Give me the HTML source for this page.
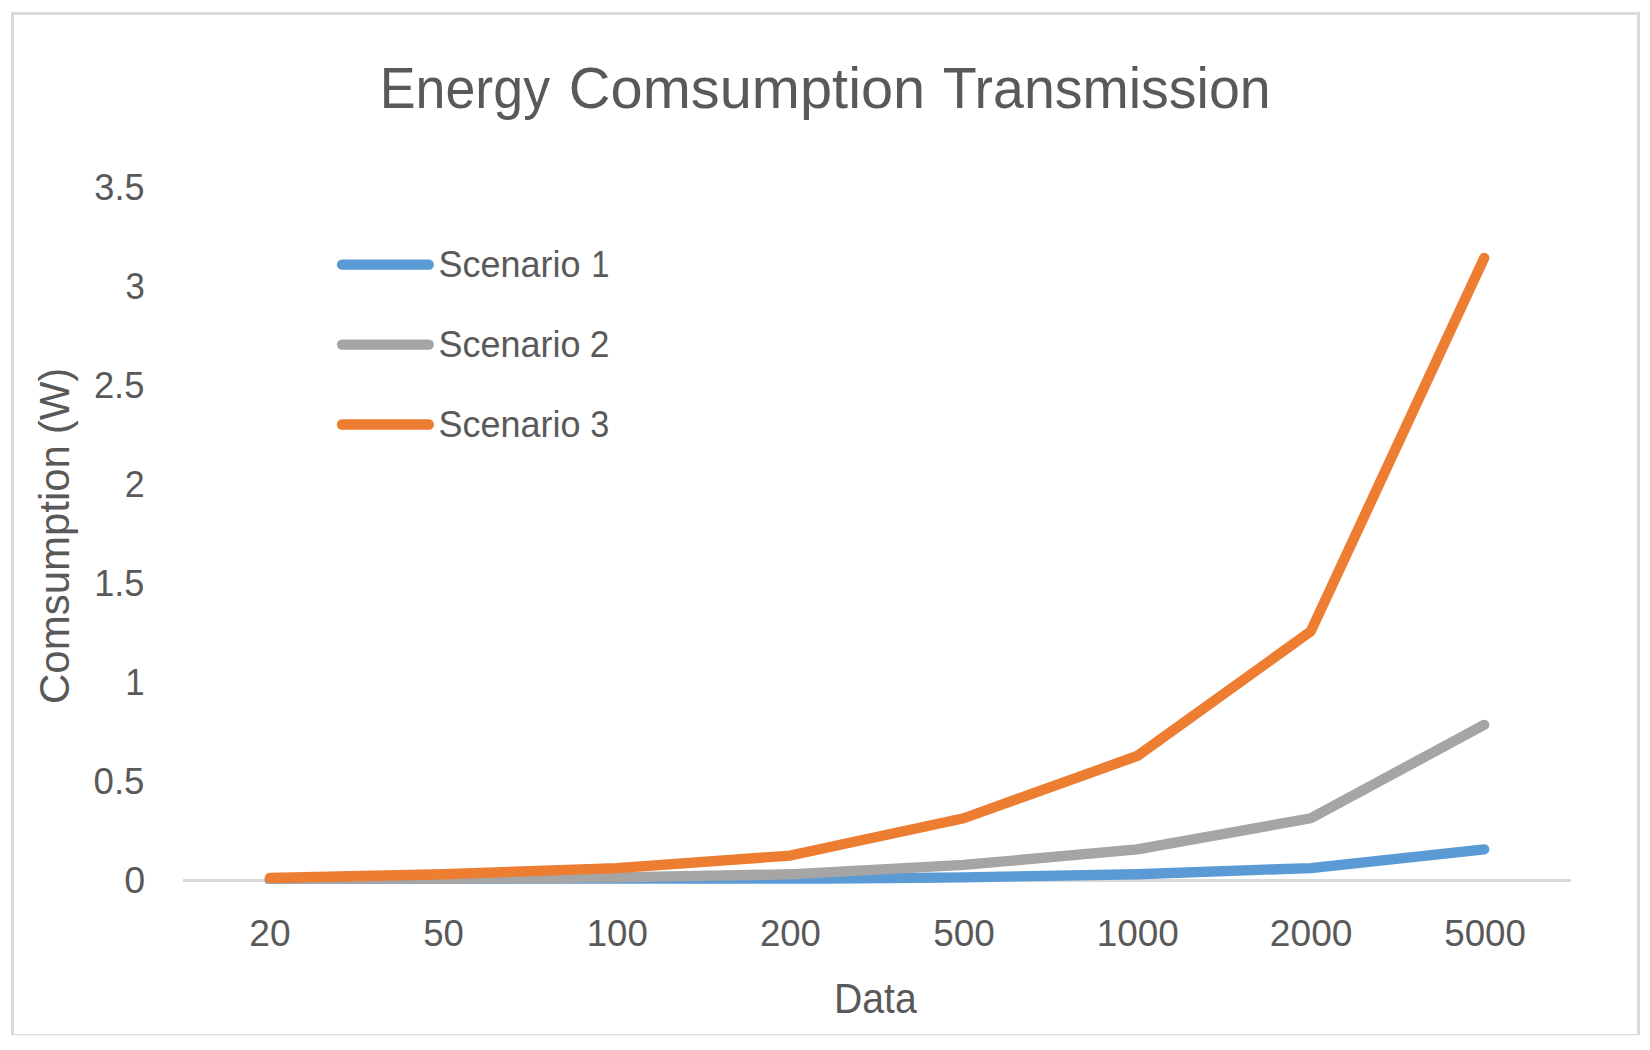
<!DOCTYPE html>
<html lang="en">
<head>
<meta charset="utf-8">
<title>Energy Comsumption Transmission</title>
<style>
html,body{margin:0;padding:0;background:#ffffff;}
body{width:1650px;height:1050px;overflow:hidden;}
svg{display:block;}
text{font-family:"Liberation Sans",sans-serif;fill:#595959;}
.ln{fill:none;stroke-linecap:round;stroke-linejoin:round;stroke-width:10.3;}
</style>
</head>
<body>
<svg width="1650" height="1050" viewBox="0 0 1650 1050" role="img" aria-label="Energy Comsumption Transmission">
<rect x="0" y="0" width="1650" height="1050" fill="#ffffff"/>
<!-- chart border -->
<g fill="#D9D9D9">
<rect x="11" y="12.1" width="1629" height="2.9"/>
<rect x="11" y="12" width="3" height="1023"/>
<rect x="1637" y="12" width="3" height="1023"/>
<rect x="11" y="1034" width="1629" height="1.2"/>
<!-- horizontal axis line -->
<rect x="183.0" y="879" width="1388.0" height="3"/>
</g>
<!-- series (clipped to plot area) -->
<defs><clipPath id="plot"><rect x="150" y="150" width="1450" height="733.8"/></clipPath></defs>
<g clip-path="url(#plot)">
<polyline class="ln" stroke="#5B9BD5" points="269.75,880.38 443.25,880.19 616.75,879.88 790.25,879.25 963.75,877.39 1137.25,874.27 1310.75,868.05 1484.25,849.37"/>
<polyline class="ln" stroke="#A5A5A5" points="269.75,879.88 443.25,878.94 616.75,877.39 790.25,874.27 963.75,864.93 1137.25,849.37 1310.75,818.23 1484.25,724.83"/>
<polyline class="ln" stroke="#ED7D31" points="269.75,878.01 443.25,874.27 616.75,868.05 790.25,855.59 963.75,818.23 1137.25,755.97 1310.75,631.44 1484.25,257.84"/>
</g>
<!-- legend keys -->
<line class="ln" stroke="#5B9BD5" x1="342" y1="264.7" x2="428.8" y2="264.7"/>
<line class="ln" stroke="#A5A5A5" x1="342" y1="344.6" x2="428.8" y2="344.6"/>
<line class="ln" stroke="#ED7D31" x1="342" y1="424.5" x2="428.8" y2="424.5"/>
<!-- text -->
<text y="107.6" font-size="56.7"><tspan x="379.80" textLength="170.20" lengthAdjust="spacingAndGlyphs">Energy</tspan> <tspan x="568.89" textLength="356.35" lengthAdjust="spacingAndGlyphs">Comsumption</tspan> <tspan x="942.73" textLength="327.98" lengthAdjust="spacingAndGlyphs">Transmission</tspan></text>
<text y="893.3" font-size="37.4"><tspan x="124.33" textLength="20.91" lengthAdjust="spacingAndGlyphs">0</tspan></text>
<text y="794.3" font-size="37.4"><tspan x="93.56" textLength="50.93" lengthAdjust="spacingAndGlyphs">0.5</tspan></text>
<text y="695.3" font-size="37.4"><tspan x="125.32" textLength="19.39" lengthAdjust="spacingAndGlyphs">1</tspan></text>
<text y="596.3" font-size="37.4"><tspan x="94.24" textLength="50.22" lengthAdjust="spacingAndGlyphs">1.5</tspan></text>
<text y="497.3" font-size="37.4"><tspan x="124.82" textLength="19.93" lengthAdjust="spacingAndGlyphs">2</tspan></text>
<text y="398.3" font-size="37.4"><tspan x="93.89" textLength="50.58" lengthAdjust="spacingAndGlyphs">2.5</tspan></text>
<text y="299.3" font-size="37.4"><tspan x="125.42" textLength="19.29" lengthAdjust="spacingAndGlyphs">3</tspan></text>
<text y="200.3" font-size="37.4"><tspan x="94.37" textLength="50.09" lengthAdjust="spacingAndGlyphs">3.5</tspan></text>
<text y="946.0" font-size="37.4"><tspan x="249.26" textLength="41.26" lengthAdjust="spacingAndGlyphs">20</tspan></text>
<text y="946.0" font-size="37.4"><tspan x="423.26" textLength="40.65" lengthAdjust="spacingAndGlyphs">50</tspan></text>
<text y="946.0" font-size="37.4"><tspan x="586.71" textLength="61.21" lengthAdjust="spacingAndGlyphs">100</tspan></text>
<text y="946.0" font-size="37.4"><tspan x="759.89" textLength="61.03" lengthAdjust="spacingAndGlyphs">200</tspan></text>
<text y="946.0" font-size="37.4"><tspan x="933.24" textLength="61.68" lengthAdjust="spacingAndGlyphs">500</tspan></text>
<text y="946.0" font-size="37.4"><tspan x="1096.69" textLength="82.23" lengthAdjust="spacingAndGlyphs">1000</tspan></text>
<text y="946.0" font-size="37.4"><tspan x="1269.86" textLength="82.67" lengthAdjust="spacingAndGlyphs">2000</tspan></text>
<text y="946.0" font-size="37.4"><tspan x="1444.25" textLength="81.66" lengthAdjust="spacingAndGlyphs">5000</tspan></text>
<text y="277.0" font-size="36.6"><tspan x="438.48" textLength="141.98" lengthAdjust="spacingAndGlyphs">Scenario</tspan> <tspan x="591.16" textLength="18.17" lengthAdjust="spacingAndGlyphs">1</tspan></text>
<text y="357.0" font-size="36.6"><tspan x="438.48" textLength="141.98" lengthAdjust="spacingAndGlyphs">Scenario</tspan> <tspan x="589.74" textLength="19.70" lengthAdjust="spacingAndGlyphs">2</tspan></text>
<text y="437.0" font-size="36.6"><tspan x="438.48" textLength="141.98" lengthAdjust="spacingAndGlyphs">Scenario</tspan> <tspan x="590.33" textLength="19.06" lengthAdjust="spacingAndGlyphs">3</tspan></text>
<text y="1012.8" font-size="41.7"><tspan x="833.94" textLength="82.81" lengthAdjust="spacingAndGlyphs">Data</tspan></text>
<text transform="translate(68.9 0) rotate(-90)" font-size="41.7"><tspan x="-703.97" textLength="258.92" lengthAdjust="spacingAndGlyphs">Comsumption</tspan> <tspan x="-433.92" textLength="66.05" lengthAdjust="spacingAndGlyphs">(W)</tspan></text>
</svg>
</body>
</html>
